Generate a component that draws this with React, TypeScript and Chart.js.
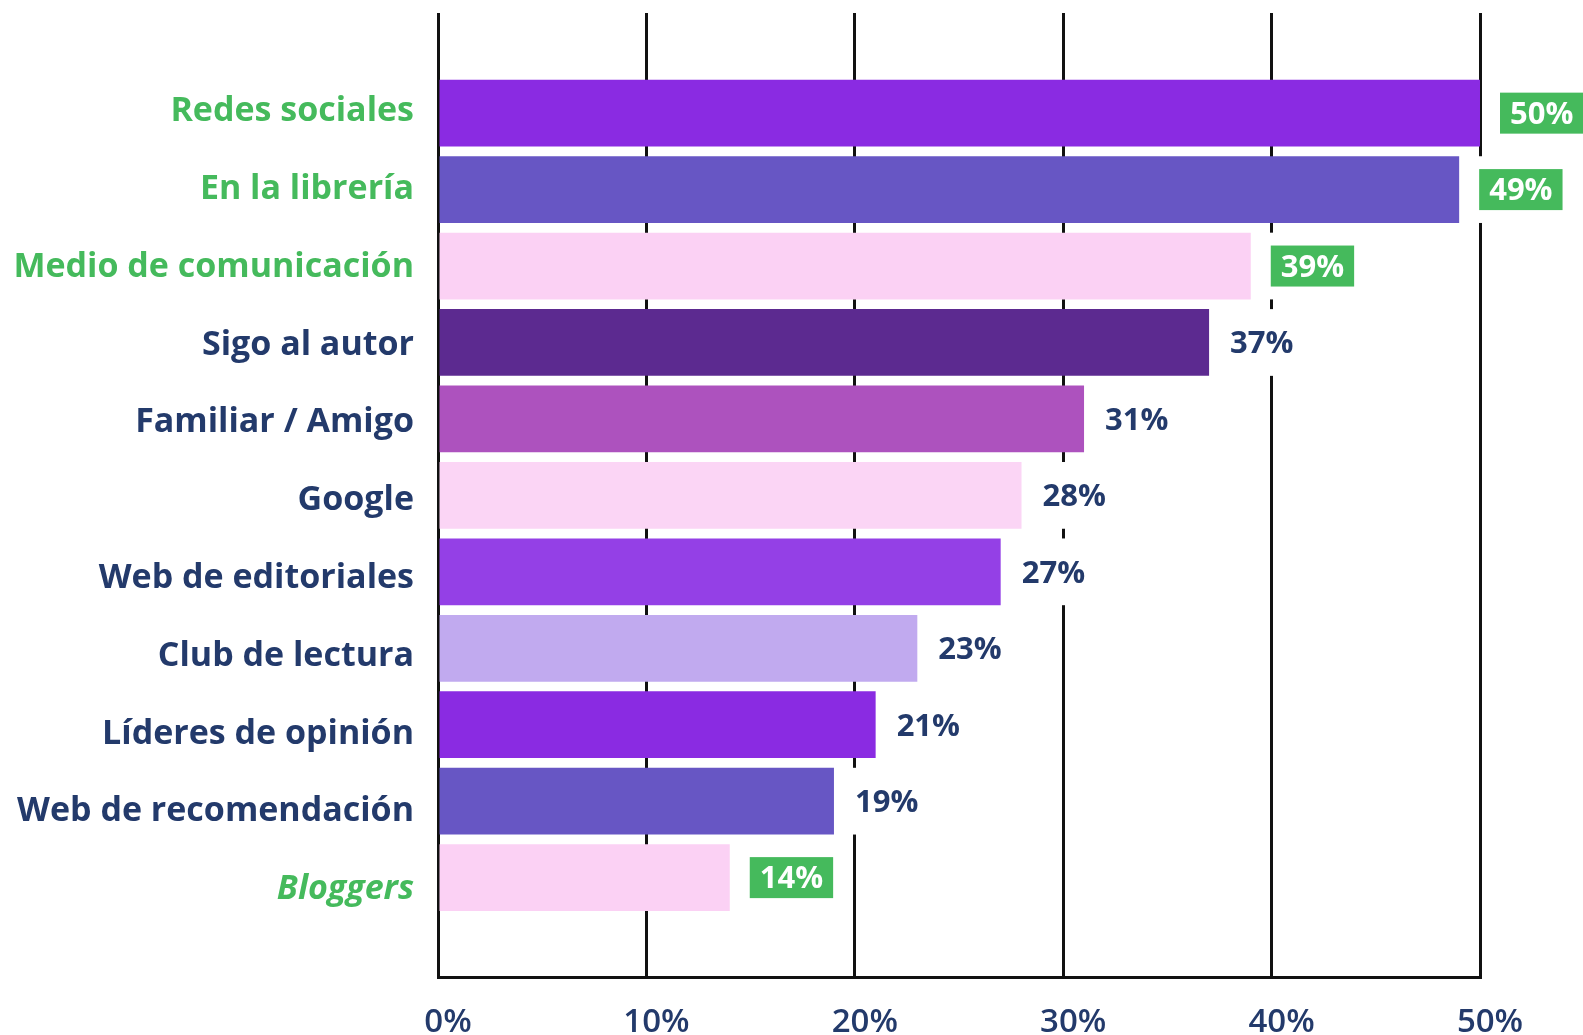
import React, { useEffect, useRef } from 'react';
import { Chart, registerables } from 'chart.js';

Chart.register(...registerables);

const categories = [
  'Redes sociales',
  'En la librería',
  'Medio de comunicación',
  'Sigo al autor',
  'Familiar / Amigo',
  'Google',
  'Web de editoriales',
  'Club de lectura',
  'Líderes de opinión',
  'Web de recomendación',
  'Bloggers',
];
const values = [50, 49, 39, 37, 31, 28, 27, 23, 21, 19, 14];
const barColors = [
  '#8A2BE2', '#6756C4', '#FBD1F4', '#5C2A90', '#AD52BE', '#FBD5F5',
  '#9440E6', '#C1AAEF', '#8A2BE2', '#6756C4', '#FBD1F4',
];
const highlighted = [true, true, true, false, false, false, false, false, false, false, true];
const italicLabels = [false, false, false, false, false, false, false, false, false, false, true];
const xTickValues = [0, 10, 20, 30, 40, 50];

const GREEN = '#45BA5C';
const NAVY = '#233A6B';
const GRID = '#111111';
const FONT = '"Open Sans", "Noto Sans", sans-serif';

const valueLabelPlugin = {
  id: 'valueLabels',
  afterDatasetsDraw(chart: any) {
    const ctx = chart.ctx;
    const meta = chart.getDatasetMeta(0);
    ctx.save();
    ctx.font = `bold 31px ${FONT}`;
    ctx.textBaseline = 'middle';
    ctx.textAlign = 'left';
    meta.data.forEach((bar: any, i: number) => {
      const { x, y, height } = bar.getProps(['x', 'y', 'height'], true);
      const text = values[i] + '%';
      const tw = ctx.measureText(text).width;
      const hl = highlighted[i];
      const gap = hl ? 20 : 21;
      const padX = 10;
      const boxW = hl ? tw + 2 * padX : tw;
      ctx.fillStyle = '#ffffff';
      ctx.fillRect(x + 3, y - height / 2, gap + boxW + 4, height);
      if (hl) {
        ctx.fillStyle = GREEN;
        ctx.fillRect(x + gap, y - 20.5, boxW, 41);
        ctx.fillStyle = '#ffffff';
      } else {
        ctx.fillStyle = NAVY;
      }
      ctx.fillText(text, x + gap + (hl ? padX : 0), y + 2);
    });
    ctx.restore();
  },
};

export default function App() {
  const canvasRef = useRef<HTMLCanvasElement | null>(null);

  useEffect(() => {
    if (!canvasRef.current) return;
    const chart = new Chart(canvasRef.current, {
      type: 'bar',
      data: {
        datasets: [
          {
            data: values.map((v, i) => ({ x: v, y: i })),
            backgroundColor: barColors,
            borderWidth: 0,
            barPercentage: 0.873,
            categoryPercentage: 1,
            xAxisID: 'x',
            yAxisID: 'y',
          },
        ],
      },
      options: {
        indexAxis: 'y',
        animation: false,
        responsive: false,
        layout: { padding: { top: 13, right: 103, left: 0, bottom: 0 } },
        plugins: { legend: { display: false }, tooltip: { enabled: false } },
        scales: {
          x: {
            type: 'linear',
            min: 0,
            max: 50,
            offset: false,
            afterBuildTicks: (scale: any) => {
              scale.ticks = xTickValues.map((v) => ({ value: v }));
            },
            afterFit: (scale: any) => {
              scale.height = 58;
              scale.paddingLeft = 0;
              scale.paddingRight = 0;
            },
            ticks: {
              callback: (v: any) => v + '%',
              color: NAVY,
              font: { family: FONT, size: 33, weight: '600' },
              padding: 26,
              labelOffset: 10,
              maxRotation: 0,
            },
            grid: { color: GRID, lineWidth: 3, drawTicks: false, offset: false },
            border: { display: true, color: GRID, width: 3 },
          },
          y: {
            type: 'linear',
            display: false,
            reverse: true,
            min: -1.31,
            max: 11.3,
            offset: false,
          },
          yLabels: {
            type: 'linear',
            position: 'left',
            reverse: true,
            min: -1.268,
            max: 11.126,
            offset: false,
            afterBuildTicks: (scale: any) => {
              scale.ticks = categories.map((_, i) => ({ value: i }));
            },
            afterFit: (scale: any) => {
              scale.width = 438;
              scale.paddingTop = 0;
              scale.paddingBottom = 0;
            },
            ticks: {
              callback: (v: any) => categories[v] ?? '',
              color: (c: any) => (highlighted[c.index] ? GREEN : NAVY),
              font: (c: any) => ({
                family: FONT,
                size: 34,
                weight: 'bold',
                style: italicLabels[c.index] ? 'italic' : 'normal',
              }),
              padding: 16,
            },
            grid: { display: false, offset: false },
            border: { display: false },
          },
        },
      },
      plugins: [valueLabelPlugin],
    } as any);
    return () => chart.destroy();
  }, []);

  return (
    <div style={{ position: 'fixed', left: 0, top: 0, width: 1583, height: 1035, background: '#fff' }}>
      <canvas ref={canvasRef} width={1583} height={1035} style={{ display: 'block' }} />
    </div>
  );
}
